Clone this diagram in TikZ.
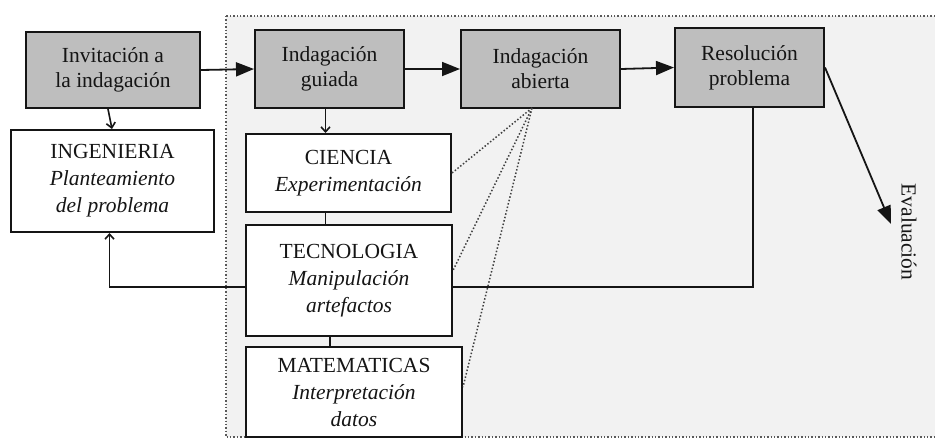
\documentclass[tikz,border=0pt]{standalone}
\usepackage{fontspec}
\setmainfont{Liberation Serif}
\usetikzlibrary{arrows.meta,calc}
\definecolor{boxgray}{HTML}{BEBEBE}
\definecolor{bggray}{HTML}{F2F2F2}
\definecolor{ink}{HTML}{151515}
\tikzset{
  graybox/.style={draw=ink,line width=2pt,fill=boxgray,rectangle,align=center,
    font=\fontsize{21.5}{25}\selectfont,text=ink,inner sep=0pt},
  whitebox/.style={draw=ink,line width=2pt,fill=white,rectangle,align=center,
    font=\fontsize{21.5}{27}\selectfont,text=ink,inner sep=0pt},
  bigarrow/.style={draw=ink,line width=1.8pt,-{Triangle[length=18pt,width=14pt]}},
  smallarrow/.style={draw=ink,line width=1.6pt,-{Straight Barb[length=5pt,width=9pt]}},
  plainline/.style={draw=ink,line width=1.8pt},
  dotline/.style={draw=black!75,line width=1.5pt,dotted},
}
\begin{document}
\begin{tikzpicture}[x=1pt,y=-1pt]
\useasboundingbox (0,0) rectangle (935,442);
% background region
\fill[white] (0,0) rectangle (935,442);
\draw[fill=bggray,draw=black!65,line width=1.4pt,dotted] (226,16) rectangle (950,437);
% top row
\node[graybox,minimum width=174pt,minimum height=76pt] (inv) at (113,70) {Invitación a\\la indagación};
\node[graybox,minimum width=149pt,minimum height=78pt] (gui) at (329.5,69) {Indagación\\guiada};
\node[graybox,minimum width=159pt,minimum height=78pt] (abi) at (540.5,69) {Indagación\\abierta};
\node[graybox,minimum width=149pt,minimum height=79pt] (res) at (749.5,67.5) {Resolución\\problema};
% white boxes
\node[whitebox,minimum width=203pt,minimum height=102pt] (ing) at (112.5,181) {INGENIERIA\\\textit{Planteamiento}\\\textit{del problema}};
\node[whitebox,minimum width=205pt,minimum height=78pt] (cie) at (348.5,173) {CIENCIA\\\textit{Experimentación}};
\node[whitebox,minimum width=206pt,minimum height=111pt] (tec) at (349,280.5) {TECNOLOGIA\\\textit{Manipulación}\\\textit{artefactos}};
\node[whitebox,minimum width=216pt,minimum height=90pt] (mat) at (354,392) {MATEMATICAS\\\textit{Interpretación}\\\textit{datos}};
% Evaluacion
\node[rotate=-90,font=\fontsize{21.5}{25}\selectfont,text=ink,inner sep=0pt] (eva) at (909,232) {Evaluación};
\coordinate (evtip) at (891,224);
\coordinate (apex) at (532,108);
% main flow
\draw[bigarrow] (inv.east) -- (gui.west);
\draw[bigarrow] (gui.east) -- (abi.west);
\draw[bigarrow] (abi.east) -- (res.west);
\draw[bigarrow] (res.east) -- (evtip);
% verticals
\draw[smallarrow] ($(inv.south)+(-5,0)$) -- ($(ing.north)+(-0.5,0)$);
\draw[smallarrow] ($(gui.south)+(-4,0)$) -- ($(gui.south |- cie.north)+(-4,0)$);
\draw[plainline] ($(gui.south |- cie.south)+(-4,0)$) -- ($(gui.south |- tec.north)+(-4,0)$);
\draw[plainline] ($(gui.south |- tec.south)+(0.5,0)$) -- ($(gui.south |- mat.north)+(0.5,0)$);
% feedback loop
\coordinate (tecE) at ($(tec.east)+(0,6.5)$);
\coordinate (tecW) at ($(tec.west)+(0,6.5)$);
\draw[plainline] ($(res.south)+(3.5,0)$) |- (tecE);
\draw[smallarrow] (tecW) -| ($(ing.south)+(-3,0)$);
% dotted links
\draw[dotline] (apex) -- (cie.east);
\draw[dotline] (apex) -- ($(tec.east)+(0,-10)$);
\draw[dotline] (apex) -- ($(mat.east)+(0,-5)$);
\end{tikzpicture}
\end{document}
